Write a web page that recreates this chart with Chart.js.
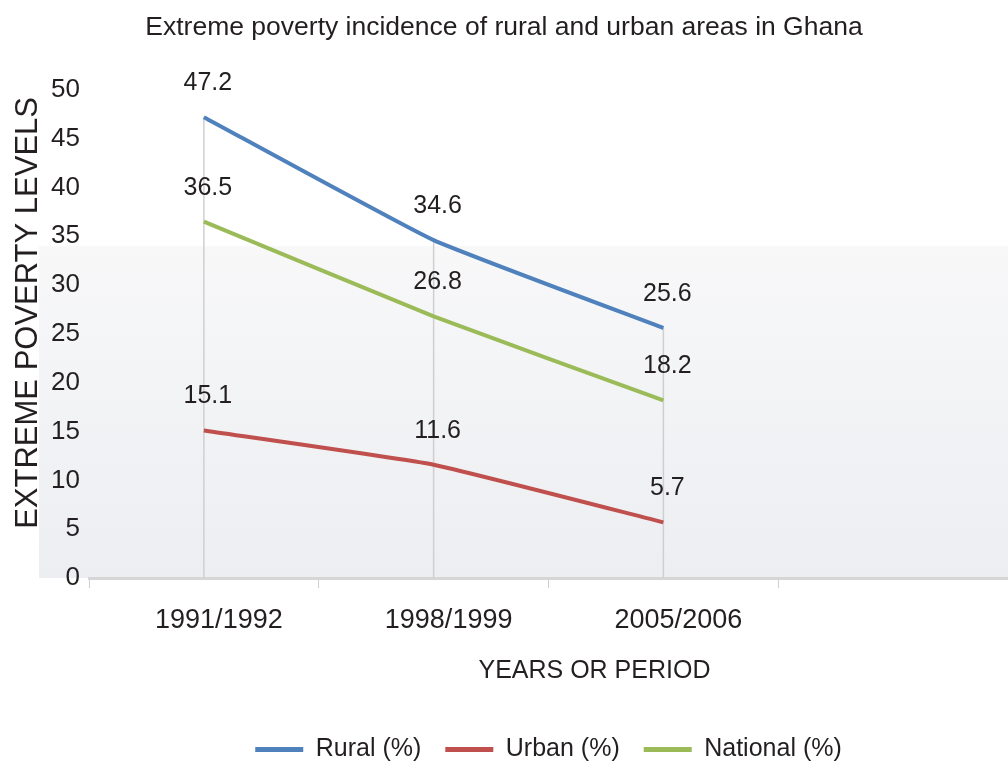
<!DOCTYPE html>
<html><head><meta charset="utf-8">
<script src="https://cdn.jsdelivr.net/npm/chart.js@4.4.1/dist/chart.umd.min.js"></script>
<style>html,body{margin:0;padding:0;background:#fff;overflow:hidden}#wrap{width:1008px;height:767px;position:relative}</style>
</head><body><div id="wrap"><canvas id="c" width="1008" height="767"></canvas></div>
<script>
const categories = ['1991/1992', '1998/1999', '2005/2006', ''];
const rural = [47.2, 34.6, 25.6];
const urban = [15.1, 11.6, 5.7];
const national = [36.5, 26.8, 18.2];
const seriesNames = ['Rural (%)', 'Urban (%)', 'National (%)'];
const yMin = 0, yMax = 50, yStep = 5;
const titleText = 'Extreme poverty incidence of rural and urban areas in Ghana';
const yTitleText = 'EXTREME POVERTY LEVELS';
const xTitleText = 'YEARS OR PERIOD';

const REG = "'Liberation Sans','DejaVu Sans',sans-serif";
const TXT = '#231f20';

const bgPlugin = {
  id: 'bg',
  beforeDraw(chart) {
    const {ctx, chartArea: a} = chart;
    const yTop = chart.scales.y.getPixelForValue(34);
    const g = ctx.createLinearGradient(0, yTop, 0, a.bottom);
    g.addColorStop(0, '#f8f8f9');
    g.addColorStop(1, '#eceef1');
    ctx.save();
    ctx.fillStyle = g;
    ctx.fillRect(a.left - 50, yTop, chart.width - a.left + 50, a.bottom - yTop);
    ctx.restore();
  }
};

const dropPlugin = {
  id: 'drops',
  beforeDatasetsDraw(chart) {
    const {ctx, chartArea: a} = chart;
    const metas = chart.data.datasets.map((d, i) => chart.getDatasetMeta(i));
    const n = rural.length;
    ctx.save();
    ctx.strokeStyle = '#cfcfd2';
    ctx.lineWidth = 1.5;
    for (let i = 0; i < n; i++) {
      let top = Infinity, x = 0;
      metas.forEach(m => { const p = m.data[i]; if (p) { top = Math.min(top, p.y); x = p.x; } });
      ctx.beginPath();
      ctx.moveTo(x, top);
      ctx.lineTo(x, a.bottom);
      ctx.stroke();
    }
    ctx.restore();
  }
};

const labelPlugin = {
  id: 'vals',
  afterDatasetsDraw(chart) {
    const {ctx} = chart;
    ctx.save();
    ctx.font = "25px " + REG;
    ctx.fillStyle = TXT;
    ctx.textAlign = 'center';
    ctx.textBaseline = 'middle';
    chart.data.datasets.forEach((ds, i) => {
      chart.getDatasetMeta(i).data.forEach((p, j) => {
        const v = ds.data[j];
        if (v === undefined) return;
        ctx.fillText(v.toFixed(1), p.x + 4, p.y - 34);
      });
    });
    ctx.restore();
  }
};

const axisTitlePlugin = {
  id: 'axtitles',
  afterDraw(chart) {
    const {ctx, chartArea: a} = chart;
    const xs = chart.scales.x;
    ctx.save();
    ctx.fillStyle = TXT;
    ctx.textAlign = 'center';
    ctx.textBaseline = 'middle';
    ctx.font = "25px " + REG;
    ctx.fillText(xTitleText, xs.left + (xs.right - xs.left) * 0.55, xs.top + 93);
    ctx.font = "31px " + REG;
    ctx.translate(28, (a.top + a.bottom) / 2 - 21);
    ctx.rotate(-Math.PI / 2);
    ctx.fillText(yTitleText, 0, 0);
    ctx.restore();
  }
};

const colors = ['#4f81bd', '#c0504d', '#9bbb59'];
const values = [rural, urban, national];

new Chart(document.getElementById('c'), {
  type: 'line',
  data: {
    labels: categories,
    datasets: values.map((v, i) => ({
      label: seriesNames[i],
      data: v,
      borderColor: colors[i],
      backgroundColor: colors[i],
      borderWidth: 4,
      pointRadius: 0,
      pointHoverRadius: 0,
      tension: 0.12,
      fill: false
    }))
  },
  options: {
    responsive: false,
    animation: false,
    devicePixelRatio: 1,
    layout: {padding: {left: 0, right: 0, top: 0, bottom: -5}},
    plugins: {
      tooltip: {enabled: false},
      title: {
        display: true, text: titleText, color: TXT,
        font: {family: REG, size: 26.5, weight: 'normal'},
        padding: {top: 12, bottom: 46}
      },
      legend: {
        position: 'bottom', fullSize: false,
        labels: {
          color: TXT, boxWidth: 48, boxHeight: 5, padding: 24,
          font: {family: REG, size: 25},
          generateLabels(chart) {
            return Chart.defaults.plugins.legend.labels.generateLabels(chart).map(l => ({...l, lineWidth: 0, fillStyle: l.strokeStyle}));
          }
        }
      }
    },
    scales: {
      x: {
        type: 'category', offset: true,
        grid: {display: true, drawOnChartArea: false, offset: true, tickLength: 10, color: '#cfcfcf', lineWidth: 1},
        border: {display: true, color: '#d6d6d6', width: 3},
        ticks: {font: {family: REG, size: 27}, color: TXT, padding: 16, labelOffset: 15, maxRotation: 0, autoSkip: false},
        afterFit(scale) { scale.height = 135; }
      },
      y: {
        min: yMin, max: yMax,
        ticks: {stepSize: yStep, font: {family: REG, size: 26}, color: TXT, padding: 1},
        grid: {display: false},
        border: {display: false},
        afterFit(scale) { scale.width = 89; }
      }
    }
  },
  plugins: [bgPlugin, dropPlugin, labelPlugin, axisTitlePlugin]
});
</script>
</body></html>
